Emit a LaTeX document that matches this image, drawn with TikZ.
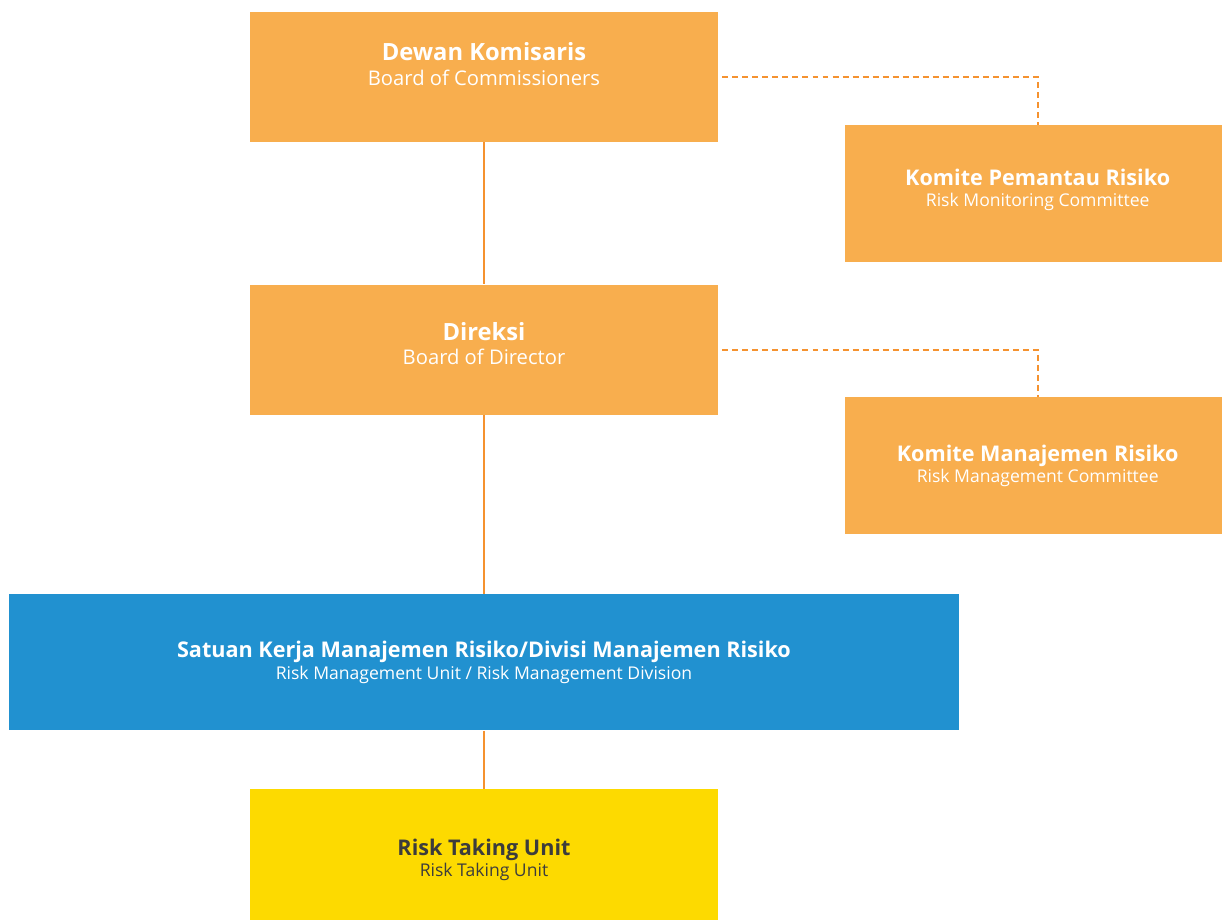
\documentclass[tikz,border=0pt]{standalone}
\usepackage{fontspec}
\setmainfont{Open Sans}
\usepackage{xcolor}
\usetikzlibrary{positioning, arrows.meta, calc}

\definecolor{boxorange}{HTML}{F8AE4E}
\definecolor{boxblue}{HTML}{2191D0}
\definecolor{boxyellow}{HTML}{FDDA00}
\definecolor{lineorange}{HTML}{F5922F}
\definecolor{textgray}{HTML}{3C3C3C}

\newcommand{\bigtitle}[2]{{\fontsize{13.5}{15}\selectfont\bfseries #1}\\[2pt]{\fontsize{11.5}{13}\selectfont #2}}
\newcommand{\smalltitle}[2]{{\fontsize{12.3}{14}\selectfont\bfseries #1}\\[0pt]{\fontsize{10}{12}\selectfont #2}}

\begin{document}
\begin{tikzpicture}[
        board/.style={
          fill=boxorange,
          minimum width=9.36cm,
          minimum height=2.6cm,
          inner sep=0pt
        },
        committee/.style={
          fill=boxorange,
          minimum width=7.56cm,
          minimum height=2.73cm,
          inner sep=0pt
        },
        unit/.style={
          fill=boxblue,
          minimum width=18.98cm,
          minimum height=2.72cm,
          inner sep=0pt
        },
        taker/.style={
          fill=boxyellow,
          minimum width=9.36cm,
          minimum height=2.62cm,
          inner sep=0pt
        },
        caption/.style={text=white, align=center, inner sep=0pt},
        link/.style={draw=lineorange, line width=1.1pt},
        dotlink/.style={draw=lineorange, line width=1.1pt, dash pattern=on 3.4pt off 2.3pt}
      ]
        \useasboundingbox (0,0) rectangle (24.44,-18.38);

        % boxes
        \node[board] (dewan) at (9.68,-1.54) {};
        \node[board, below=2.84cm of dewan] (direksi) {};
        \node[unit, below=3.58cm of direksi] (skmr) {};
        \node[taker, below=1.16cm of skmr] (rtu) {};
        \node[committee, right=2.52cm of dewan, yshift=-2.33cm] (kpr) {};
        \node[committee, right=2.52cm of direksi, yshift=-2.32cm] (kmr) {};

        % texts
        \node[caption, yshift=0.26cm] (dewan-txt) at (dewan) {\bigtitle{Dewan Komisaris}{Board of Commissioners}};
        \node[caption, yshift=0.12cm] (direksi-txt) at (direksi) {\bigtitle{Direksi}{Board of Director}};
        \node[caption] (skmr-txt) at (skmr) {\smalltitle{Satuan Kerja Manajemen Risiko/Divisi Manajemen Risiko}{Risk Management Unit / Risk Management Division}};
        \node[caption, text=textgray, yshift=-0.1cm] (rtu-txt) at (rtu) {\smalltitle{Risk Taking Unit}{Risk Taking Unit}};
        \node[caption, xshift=0.08cm, yshift=0.08cm] (kpr-txt) at (kpr) {\smalltitle{Komite Pemantau Risiko}{Risk Monitoring Committee}};
        \node[caption, xshift=0.08cm] (kmr-txt) at (kmr) {\smalltitle{Komite Manajemen Risiko}{Risk Management Committee}};

        % connectors
        \draw[link] (dewan.south) -- (direksi.north);
        \draw[link] (direksi.south) -- (skmr.north);
        \draw[link] (skmr.south) -- (rtu.north);

        \draw[dotlink] ([xshift=0.08cm]dewan.east) -| ([xshift=0.08cm]kpr.north);
        \draw[dotlink] ([xshift=0.08cm]direksi.east) -| ([xshift=0.08cm]kmr.north);
      \end{tikzpicture}
\end{document}
